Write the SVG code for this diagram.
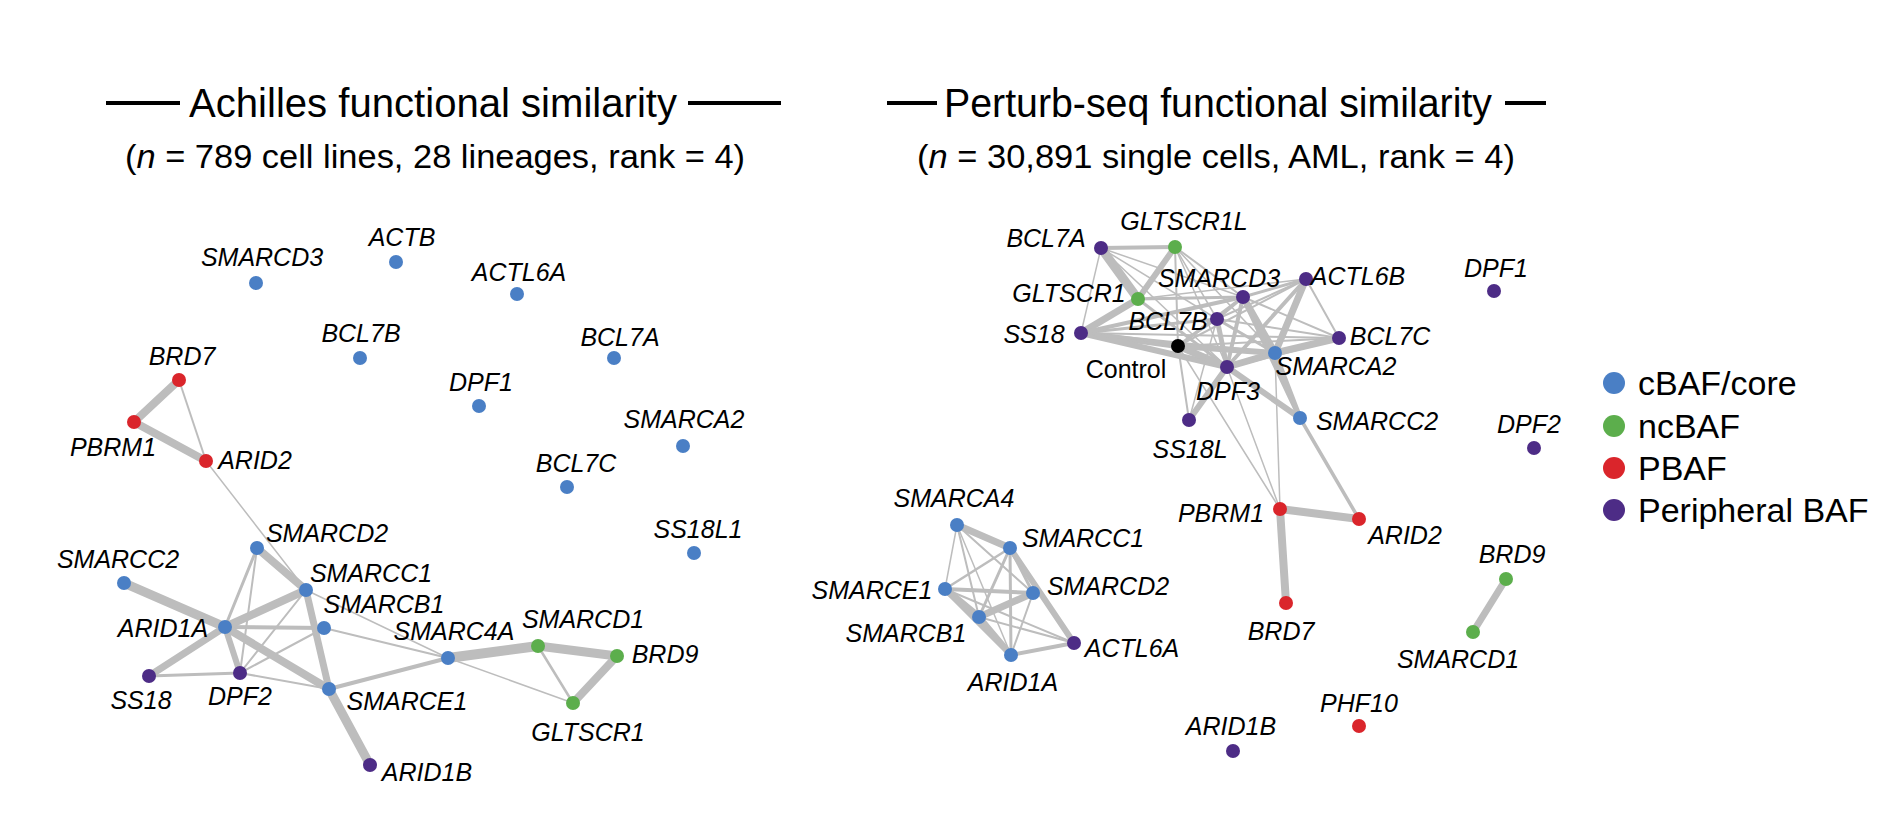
<svg xmlns="http://www.w3.org/2000/svg" width="1891" height="813" viewBox="0 0 1891 813">
<style>
.t{font-family:"Liberation Sans",Arial,sans-serif;fill:#000}
.tt{font-size:40px;text-anchor:middle}
.st{font-size:34px;text-anchor:middle}
.lb{font-family:"Liberation Sans",Arial,sans-serif;font-style:italic;font-size:25px;text-anchor:middle;fill:#000}
.ctl{font-family:"Liberation Sans",Arial,sans-serif;font-size:25px;text-anchor:middle;fill:#000}
.lg{font-family:"Liberation Sans",Arial,sans-serif;font-size:34px;fill:#000}
.rule{stroke:#000;stroke-width:4}
#edges line{stroke:#bdbdbd;stroke-linecap:round}
.cb{fill:#4a7fc5}
.nc{fill:#5cae4c}
.pb{fill:#da252b}
.pe{fill:#4d2c86}
.ck{fill:#000}
</style>
<rect width="1891" height="813" fill="#fff"/>
<g id="titles">
<line class="rule" x1="106" y1="103" x2="180" y2="103"/>
<line class="rule" x1="688" y1="103" x2="781" y2="103"/>
<text class="t tt" x="433" y="117" textLength="488" lengthAdjust="spacingAndGlyphs">Achilles functional similarity</text>
<text class="t st" x="435" y="168" textLength="620" lengthAdjust="spacingAndGlyphs">(<tspan font-style="italic">n</tspan> = 789 cell lines, 28 lineages, rank = 4)</text>
<line class="rule" x1="887" y1="103" x2="937" y2="103"/>
<line class="rule" x1="1505" y1="103" x2="1546" y2="103"/>
<text class="t tt" x="1218" y="117" textLength="548" lengthAdjust="spacingAndGlyphs">Perturb-seq functional similarity</text>
<text class="t st" x="1216" y="168" textLength="598" lengthAdjust="spacingAndGlyphs">(<tspan font-style="italic">n</tspan> = 30,891 single cells, AML, rank = 4)</text>
</g>
<g id="edges">
<!-- left network -->
<line x1="179" y1="380" x2="134" y2="422" stroke-width="8"/>
<line x1="134" y1="422" x2="206" y2="461" stroke-width="8"/>
<line x1="179" y1="380" x2="206" y2="461" stroke-width="2"/>
<line x1="206" y1="461" x2="306" y2="590" stroke-width="1.5"/>
<line x1="124" y1="583" x2="225" y2="627" stroke-width="9"/>
<line x1="225" y1="627" x2="306" y2="590" stroke-width="8"/>
<line x1="225" y1="627" x2="149" y2="676" stroke-width="7"/>
<line x1="225" y1="627" x2="240" y2="673" stroke-width="6"/>
<line x1="225" y1="627" x2="324" y2="628" stroke-width="4"/>
<line x1="225" y1="627" x2="257" y2="548" stroke-width="3"/>
<line x1="225" y1="627" x2="329" y2="689" stroke-width="8"/>
<line x1="257" y1="548" x2="306" y2="590" stroke-width="8"/>
<line x1="257" y1="548" x2="240" y2="673" stroke-width="2"/>
<line x1="306" y1="590" x2="329" y2="689" stroke-width="7"/>
<line x1="306" y1="590" x2="240" y2="673" stroke-width="2"/>
<line x1="306" y1="590" x2="448" y2="658" stroke-width="1.5"/>
<line x1="324" y1="628" x2="240" y2="673" stroke-width="2"/>
<line x1="324" y1="628" x2="448" y2="658" stroke-width="2"/>
<line x1="149" y1="676" x2="240" y2="673" stroke-width="3"/>
<line x1="240" y1="673" x2="329" y2="689" stroke-width="2"/>
<line x1="329" y1="689" x2="448" y2="658" stroke-width="4"/>
<line x1="329" y1="689" x2="370" y2="765" stroke-width="9"/>
<line x1="448" y1="658" x2="538" y2="646" stroke-width="10"/>
<line x1="538" y1="646" x2="617" y2="656" stroke-width="9"/>
<line x1="538" y1="646" x2="573" y2="703" stroke-width="2.5"/>
<line x1="617" y1="656" x2="573" y2="703" stroke-width="8"/>
<line x1="448" y1="658" x2="573" y2="703" stroke-width="1.5"/>
<!-- right dense cluster -->
<line x1="1101" y1="248" x2="1175" y2="247" stroke-width="4"/>
<line x1="1101" y1="248" x2="1138" y2="299" stroke-width="9"/>
<line x1="1101" y1="248" x2="1081" y2="333" stroke-width="1.5"/>
<line x1="1101" y1="248" x2="1243" y2="297" stroke-width="1.5"/>
<line x1="1101" y1="248" x2="1217" y2="319" stroke-width="1.5"/>
<line x1="1101" y1="248" x2="1227" y2="367" stroke-width="1.5"/>
<line x1="1175" y1="247" x2="1138" y2="299" stroke-width="6"/>
<line x1="1175" y1="247" x2="1243" y2="297" stroke-width="2"/>
<line x1="1175" y1="247" x2="1217" y2="319" stroke-width="1.5"/>
<line x1="1175" y1="247" x2="1178" y2="346" stroke-width="2"/>
<line x1="1175" y1="247" x2="1275" y2="353" stroke-width="1.5"/>
<line x1="1175" y1="247" x2="1227" y2="367" stroke-width="1.5"/>
<line x1="1138" y1="299" x2="1243" y2="297" stroke-width="3"/>
<line x1="1138" y1="299" x2="1081" y2="333" stroke-width="7"/>
<line x1="1138" y1="299" x2="1306" y2="279" stroke-width="1.5"/>
<line x1="1138" y1="299" x2="1227" y2="367" stroke-width="3"/>
<line x1="1081" y1="333" x2="1178" y2="346" stroke-width="6"/>
<line x1="1081" y1="333" x2="1227" y2="367" stroke-width="6"/>
<line x1="1081" y1="333" x2="1217" y2="319" stroke-width="3"/>
<line x1="1081" y1="333" x2="1243" y2="297" stroke-width="4"/>
<line x1="1081" y1="333" x2="1275" y2="353" stroke-width="3"/>
<line x1="1081" y1="333" x2="1339" y2="338" stroke-width="2"/>
<line x1="1243" y1="297" x2="1306" y2="279" stroke-width="3"/>
<line x1="1243" y1="297" x2="1339" y2="338" stroke-width="2"/>
<line x1="1243" y1="297" x2="1275" y2="353" stroke-width="7"/>
<line x1="1243" y1="297" x2="1227" y2="367" stroke-width="4"/>
<line x1="1243" y1="297" x2="1217" y2="319" stroke-width="3"/>
<line x1="1243" y1="297" x2="1178" y2="346" stroke-width="3"/>
<line x1="1243" y1="297" x2="1300" y2="418" stroke-width="5"/>
<line x1="1306" y1="279" x2="1217" y2="319" stroke-width="2"/>
<line x1="1306" y1="279" x2="1227" y2="367" stroke-width="4"/>
<line x1="1306" y1="279" x2="1275" y2="353" stroke-width="7"/>
<line x1="1306" y1="279" x2="1178" y2="346" stroke-width="2"/>
<line x1="1306" y1="279" x2="1339" y2="338" stroke-width="2"/>
<line x1="1217" y1="319" x2="1227" y2="367" stroke-width="5"/>
<line x1="1217" y1="319" x2="1275" y2="353" stroke-width="3"/>
<line x1="1217" y1="319" x2="1178" y2="346" stroke-width="2"/>
<line x1="1217" y1="319" x2="1339" y2="338" stroke-width="2"/>
<line x1="1178" y1="346" x2="1227" y2="367" stroke-width="7"/>
<line x1="1178" y1="346" x2="1275" y2="353" stroke-width="6"/>
<line x1="1178" y1="346" x2="1339" y2="338" stroke-width="2"/>
<line x1="1227" y1="367" x2="1275" y2="353" stroke-width="7"/>
<line x1="1227" y1="367" x2="1339" y2="338" stroke-width="4"/>
<line x1="1275" y1="353" x2="1339" y2="338" stroke-width="7"/>
<line x1="1227" y1="367" x2="1300" y2="418" stroke-width="6"/>
<line x1="1275" y1="353" x2="1300" y2="418" stroke-width="5"/>
<line x1="1189" y1="420" x2="1227" y2="367" stroke-width="6"/>
<line x1="1189" y1="420" x2="1178" y2="346" stroke-width="2"/>
<line x1="1189" y1="420" x2="1217" y2="319" stroke-width="1.5"/>
<line x1="1178" y1="346" x2="1280" y2="509" stroke-width="1.5"/>
<line x1="1227" y1="367" x2="1280" y2="509" stroke-width="1.5"/>
<line x1="1275" y1="353" x2="1280" y2="509" stroke-width="1.5"/>
<line x1="1300" y1="418" x2="1359" y2="519" stroke-width="3.5"/>
<line x1="1280" y1="509" x2="1359" y2="519" stroke-width="8"/>
<line x1="1280" y1="509" x2="1286" y2="603" stroke-width="8"/>
<line x1="1506" y1="579" x2="1473" y2="632" stroke-width="7"/>
<!-- right SMARCA4 cluster -->
<line x1="957" y1="525" x2="1010" y2="548" stroke-width="7"/>
<line x1="957" y1="525" x2="945" y2="589" stroke-width="1.5"/>
<line x1="957" y1="525" x2="1033" y2="593" stroke-width="2"/>
<line x1="957" y1="525" x2="979" y2="617" stroke-width="2"/>
<line x1="957" y1="525" x2="1011" y2="655" stroke-width="1.5"/>
<line x1="1010" y1="548" x2="945" y2="589" stroke-width="2.5"/>
<line x1="1010" y1="548" x2="1074" y2="643" stroke-width="6"/>
<line x1="1010" y1="548" x2="1033" y2="593" stroke-width="3"/>
<line x1="1010" y1="548" x2="979" y2="617" stroke-width="3"/>
<line x1="1010" y1="548" x2="1011" y2="655" stroke-width="3"/>
<line x1="945" y1="589" x2="1033" y2="593" stroke-width="4"/>
<line x1="945" y1="589" x2="979" y2="617" stroke-width="7"/>
<line x1="945" y1="589" x2="1011" y2="655" stroke-width="6"/>
<line x1="945" y1="589" x2="1074" y2="643" stroke-width="2"/>
<line x1="1033" y1="593" x2="979" y2="617" stroke-width="7"/>
<line x1="1033" y1="593" x2="1011" y2="655" stroke-width="2"/>
<line x1="979" y1="617" x2="1011" y2="655" stroke-width="6"/>
<line x1="979" y1="617" x2="1074" y2="643" stroke-width="2"/>
<line x1="1011" y1="655" x2="1074" y2="643" stroke-width="4"/>
</g>
<g id="left-nodes">
<g id="a-SMARCD3"><circle class="cb" cx="256" cy="283" r="7"/><text class="lb" x="262" y="266">SMARCD3</text></g>
<g id="a-ACTB"><circle class="cb" cx="396" cy="262" r="7"/><text class="lb" x="402" y="246">ACTB</text></g>
<g id="a-ACTL6A"><circle class="cb" cx="517" cy="294" r="7"/><text class="lb" x="519" y="281">ACTL6A</text></g>
<g id="a-BCL7B"><circle class="cb" cx="360" cy="358" r="7"/><text class="lb" x="361" y="342">BCL7B</text></g>
<g id="a-BCL7A"><circle class="cb" cx="614" cy="358" r="7"/><text class="lb" x="620" y="346">BCL7A</text></g>
<g id="a-BRD7"><circle class="pb" cx="179" cy="380" r="7"/><text class="lb" x="182" y="365">BRD7</text></g>
<g id="a-DPF1"><circle class="cb" cx="479" cy="406" r="7"/><text class="lb" x="481" y="391">DPF1</text></g>
<g id="a-PBRM1"><circle class="pb" cx="134" cy="422" r="7"/><text class="lb" x="113" y="456">PBRM1</text></g>
<g id="a-ARID2"><circle class="pb" cx="206" cy="461" r="7"/><text class="lb" x="255" y="469">ARID2</text></g>
<g id="a-SMARCA2"><circle class="cb" cx="683" cy="446" r="7"/><text class="lb" x="684" y="428">SMARCA2</text></g>
<g id="a-BCL7C"><circle class="cb" cx="567" cy="487" r="7"/><text class="lb" x="576" y="472">BCL7C</text></g>
<g id="a-SMARCD2"><circle class="cb" cx="257" cy="548" r="7"/><text class="lb" x="327" y="542">SMARCD2</text></g>
<g id="a-SS18L1"><circle class="cb" cx="694" cy="553" r="7"/><text class="lb" x="698" y="538">SS18L1</text></g>
<g id="a-SMARCC2"><circle class="cb" cx="124" cy="583" r="7"/><text class="lb" x="118" y="568">SMARCC2</text></g>
<g id="a-SMARCC1"><circle class="cb" cx="306" cy="590" r="7"/><text class="lb" x="371" y="582">SMARCC1</text></g>
<g id="a-SMARCB1"><circle class="cb" cx="324" cy="628" r="7"/><text class="lb" x="384" y="613">SMARCB1</text></g>
<g id="a-ARID1A"><circle class="cb" cx="225" cy="627" r="7"/><text class="lb" x="163" y="637">ARID1A</text></g>
<g id="a-SMARC4A"><circle class="cb" cx="448" cy="658" r="7"/><text class="lb" x="454" y="640">SMARC4A</text></g>
<g id="a-SMARCD1"><circle class="nc" cx="538" cy="646" r="7"/><text class="lb" x="583" y="628">SMARCD1</text></g>
<g id="a-BRD9"><circle class="nc" cx="617" cy="656" r="7"/><text class="lb" x="665" y="663">BRD9</text></g>
<g id="a-SS18"><circle class="pe" cx="149" cy="676" r="7"/><text class="lb" x="141" y="709">SS18</text></g>
<g id="a-DPF2"><circle class="pe" cx="240" cy="673" r="7"/><text class="lb" x="240" y="705">DPF2</text></g>
<g id="a-SMARCE1"><circle class="cb" cx="329" cy="689" r="7"/><text class="lb" x="407" y="710">SMARCE1</text></g>
<g id="a-GLTSCR1"><circle class="nc" cx="573" cy="703" r="7"/><text class="lb" x="588" y="741">GLTSCR1</text></g>
<g id="a-ARID1B"><circle class="pe" cx="370" cy="765" r="7"/><text class="lb" x="427" y="781">ARID1B</text></g>
</g>
<g id="right-nodes">
<g id="b-BCL7A"><circle class="pe" cx="1101" cy="248" r="7"/><text class="lb" x="1046" y="247">BCL7A</text></g>
<g id="b-GLTSCR1L"><circle class="nc" cx="1175" cy="247" r="7"/><text class="lb" x="1184" y="230">GLTSCR1L</text></g>
<g id="b-SMARCD3"><circle class="pe" cx="1243" cy="297" r="7"/><text class="lb" x="1219" y="287">SMARCD3</text></g>
<g id="b-ACTL6B"><circle class="pe" cx="1306" cy="279" r="7"/><text class="lb" x="1358" y="285">ACTL6B</text></g>
<g id="b-GLTSCR1"><circle class="nc" cx="1138" cy="299" r="7"/><text class="lb" x="1069" y="302">GLTSCR1</text></g>
<g id="b-BCL7B"><circle class="pe" cx="1217" cy="319" r="7"/><text class="lb" x="1168" y="330">BCL7B</text></g>
<g id="b-SS18"><circle class="pe" cx="1081" cy="333" r="7"/><text class="lb" x="1034" y="343">SS18</text></g>
<g id="b-Control"><circle class="ck" cx="1178" cy="346" r="7"/><text class="ctl" x="1126" y="378">Control</text></g>
<g id="b-DPF3"><circle class="pe" cx="1227" cy="367" r="7"/><text class="lb" x="1228" y="400">DPF3</text></g>
<g id="b-SMARCA2"><circle class="cb" cx="1275" cy="353" r="7"/><text class="lb" x="1336" y="375">SMARCA2</text></g>
<g id="b-BCL7C"><circle class="pe" cx="1339" cy="338" r="7"/><text class="lb" x="1390" y="345">BCL7C</text></g>
<g id="b-SMARCC2"><circle class="cb" cx="1300" cy="418" r="7"/><text class="lb" x="1377" y="430">SMARCC2</text></g>
<g id="b-SS18L"><circle class="pe" cx="1189" cy="420" r="7"/><text class="lb" x="1190" y="458">SS18L</text></g>
<g id="b-PBRM1"><circle class="pb" cx="1280" cy="509" r="7"/><text class="lb" x="1221" y="522">PBRM1</text></g>
<g id="b-ARID2"><circle class="pb" cx="1359" cy="519" r="7"/><text class="lb" x="1405" y="544">ARID2</text></g>
<g id="b-BRD7"><circle class="pb" cx="1286" cy="603" r="7"/><text class="lb" x="1281" y="640">BRD7</text></g>
<g id="b-BRD9"><circle class="nc" cx="1506" cy="579" r="7"/><text class="lb" x="1512" y="563">BRD9</text></g>
<g id="b-SMARCD1"><circle class="nc" cx="1473" cy="632" r="7"/><text class="lb" x="1458" y="668">SMARCD1</text></g>
<g id="b-PHF10"><circle class="pb" cx="1359" cy="726" r="7"/><text class="lb" x="1359" y="712">PHF10</text></g>
<g id="b-ARID1B"><circle class="pe" cx="1233" cy="751" r="7"/><text class="lb" x="1231" y="735">ARID1B</text></g>
<g id="b-DPF1"><circle class="pe" cx="1494" cy="291" r="7"/><text class="lb" x="1496" y="277">DPF1</text></g>
<g id="b-DPF2"><circle class="pe" cx="1534" cy="448" r="7"/><text class="lb" x="1529" y="433">DPF2</text></g>
<g id="b-SMARCA4"><circle class="cb" cx="957" cy="525" r="7"/><text class="lb" x="954" y="507">SMARCA4</text></g>
<g id="b-SMARCC1"><circle class="cb" cx="1010" cy="548" r="7"/><text class="lb" x="1083" y="547">SMARCC1</text></g>
<g id="b-SMARCE1"><circle class="cb" cx="945" cy="589" r="7"/><text class="lb" x="872" y="599">SMARCE1</text></g>
<g id="b-SMARCD2"><circle class="cb" cx="1033" cy="593" r="7"/><text class="lb" x="1108" y="595">SMARCD2</text></g>
<g id="b-SMARCB1"><circle class="cb" cx="979" cy="617" r="7"/><text class="lb" x="906" y="642">SMARCB1</text></g>
<g id="b-ACTL6A"><circle class="pe" cx="1074" cy="643" r="7"/><text class="lb" x="1132" y="657">ACTL6A</text></g>
<g id="b-ARID1A"><circle class="cb" cx="1011" cy="655" r="7"/><text class="lb" x="1013" y="691">ARID1A</text></g>
</g>
<g id="legend">
<circle class="cb" cx="1614" cy="383" r="11"/><text class="lg" x="1638" y="395">cBAF/core</text>
<circle class="nc" cx="1614" cy="426" r="11"/><text class="lg" x="1638" y="438">ncBAF</text>
<circle class="pb" cx="1614" cy="468" r="11"/><text class="lg" x="1638" y="480">PBAF</text>
<circle class="pe" cx="1614" cy="510" r="11"/><text class="lg" x="1638" y="522">Peripheral BAF</text>
</g>
</svg>
